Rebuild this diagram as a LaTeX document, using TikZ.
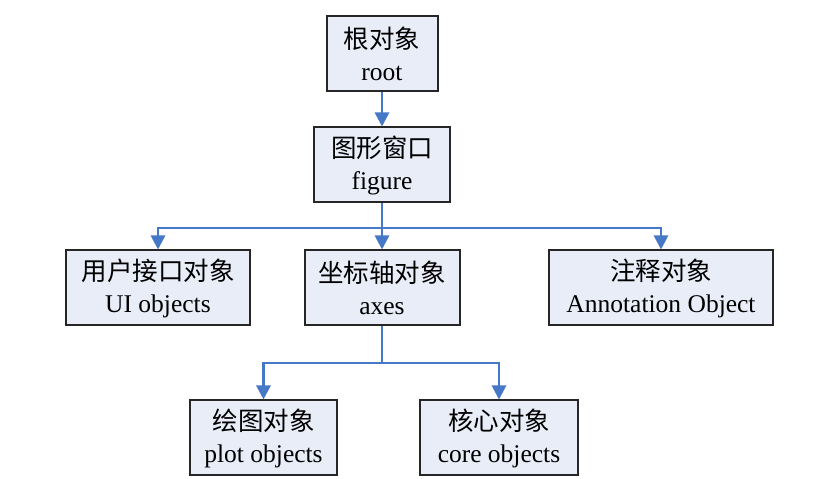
\documentclass[tikz,border=0pt]{standalone}
\usepackage{fontspec}
\setmainfont{Liberation Serif}
\newfontfamily\cjk{Noto Sans CJK SC}
\usepackage{tikz}
\usetikzlibrary{positioning}
\usetikzlibrary{arrows.meta}

\definecolor{boxfill}{RGB}{233,237,248}
\definecolor{linkblue}{RGB}{70,120,200}

\begin{document}
\begin{tikzpicture}[
        x = 1pt, y = 1pt,
        box/.style = {
            draw = black!85,
            fill = boxfill,
            line width = 2pt,
            minimum width = #1,
            minimum height = 75pt,
            inner sep = 0pt,
            align = center,
            font = \fontsize{25.5}{32}\selectfont
        },
        box/.default = 150pt,
        link/.style = {
            draw = linkblue,
            line width = 2.8pt,
            -{Triangle[length=14pt, width=14pt]}
        }
        ]
        \useasboundingbox (0,0) rectangle (814,479);
%
        \node[box=111pt] (root) at (382,425) {{\cjk 根对象}\\root};
        \node[box=136pt] (figure) at (382,314) {{\cjk 图形窗口}\\figure};
%
        \node[box=184pt] (ui) at (158,191) {{\cjk 用户接口对象}\\UI objects};
        \node[box=155pt] (axes) at (382,191) {{\cjk 坐标轴对象}\\axes};
        \node[box=224pt] (annot) at (661,191) {{\cjk 注释对象}\\Annotation Object};
%
        \node[box=147pt] (plot) at (263.5,41) {{\cjk 绘图对象}\\plot objects};
        \node[box=158pt] (core) at (499,41) {{\cjk 核心对象}\\core objects};
%
        \coordinate (split1) at (382,251);
        \coordinate (split2) at (382,116);
%
        \draw[link] (root) -- (figure);
        \draw[link] (figure) -- (axes);
        \draw[link] (split1) -| (ui.north);
        \draw[link] (split1) -| (annot.north);
%
        \draw[link, -] (axes.south) -- (split2);
        \draw[link] (split2) -| (plot.north);
        \draw[link] (split2) -| (core.north);
\end{tikzpicture}
\end{document}
